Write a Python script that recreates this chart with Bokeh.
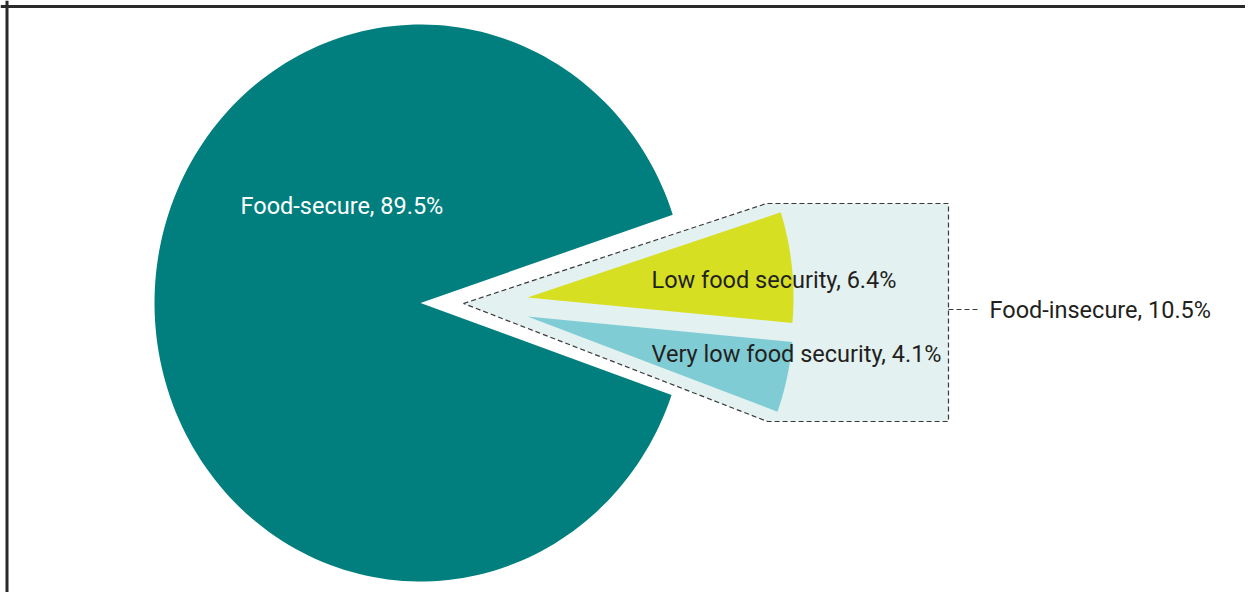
import numpy as np
from bokeh.plotting import figure
from bokeh.models import Range1d, Span, ColumnDataSource, PolyAnnotation
from bokeh.embed import file_html
from bokeh.resources import INLINE
from bokeh.core.properties import value

# ---- data ----
categories = ["Food-secure", "Low food security", "Very low food security"]
shares = [89.5, 6.4, 4.1]
group_label = "Food-insecure"
group_share = 10.5
colors = ["#007F7E", "#D6DF22", "#80CCD5"]
label_colors = ["#FFFFFF", "#231F20", "#231F20"]

# ---- layout ----
W, H = 1245, 592
FONT = "Roboto"
FS = "23.5px"

p = figure(width=W, height=H, output_backend="svg", toolbar_location=None,
           x_range=Range1d(0, W), y_range=Range1d(H, 0),
           x_axis_type=None, y_axis_type=None, min_border=0)
p.grid.visible = False
p.outline_line_color = None
p.background_fill_color = "white"
p.border_fill_color = "white"

cx, cy = 420.0, 302.5
rx, ry = 266.0, 278.5


def wedge_pts(x0, y0, a0, a1, n=200):
    a = np.radians(np.linspace(a0, a1, n))
    xs = np.concatenate([[x0], x0 + rx * np.cos(a), [x0]])
    ys = np.concatenate([[y0], y0 - ry * np.sin(a), [y0]])
    return list(xs), list(ys)


# angles from shares
gap = (100 - shares[0]) / 100 * 360.0
half = gap / 2.0
rot_main = -0.4
rot_sub = -1.1
xs_all, ys_all = [], []
x, y = wedge_pts(cx, cy, half + rot_main, 360 - half + rot_main)
xs_all.append(x); ys_all.append(y)

# exploded sub-wedges
offsets = [(107.0, -5.5), (107.0, 13.5)]
span_low = shares[1] / 100 * 360.0
span_vlow = shares[2] / 100 * 360.0
sub_angles = [(half - span_low, half), (-half, -half + span_vlow)]

# callout background
callout = PolyAnnotation(xs=[463, 766, 948, 948, 767], ys=[303, 203, 203, 421, 421],
                         fill_color="#E4F1F1", fill_alpha=1.0,
                         line_color="#3A3A3A", line_alpha=1.0, line_width=1.2,
                         line_dash="5 3", level="underlay")
p.add_layout(callout)

for (dx, dy), (a0, a1) in zip(offsets, sub_angles):
    x, y = wedge_pts(cx + dx, cy + dy, a0 + rot_sub, a1 + rot_sub)
    xs_all.append(x); ys_all.append(y)

src = ColumnDataSource(dict(xs=xs_all, ys=ys_all, color=colors))
p.patches("xs", "ys", fill_color="color", line_color=None, source=src)

# connector
p.segment(x0=[948], y0=[309], x1=[979], y1=[309], line_color="#3A3A3A",
          line_width=1.2, line_dash="5 3")

# labels
labels = [f"{c}, {s}%" for c, s in zip(categories, shares)]
lab_src = ColumnDataSource(dict(x=[240, 651, 651], y=[205, 279, 353],
                                text=labels, color=label_colors))
p.text("x", "y", text="text", text_color="color", source=lab_src,
       text_font=value(FONT), text_font_size=value(FS),
       text_baseline="middle", text_align="left")
p.text(x=[989], y=[309], text=[f"{group_label}, {group_share}%"],
       text_color="#231F20", text_font=value(FONT), text_font_size=value(FS),
       text_baseline="middle", text_align="left")

# border (left and top only; right/bottom are cropped in the reference)
p.add_layout(Span(location=6.5, dimension="height", line_color="#2A2A2A", line_width=3))
p.add_layout(Span(location=6, dimension="width", line_color="#2A2A2A", line_width=3))

open("out.html", "w").write(file_html(p, INLINE))
